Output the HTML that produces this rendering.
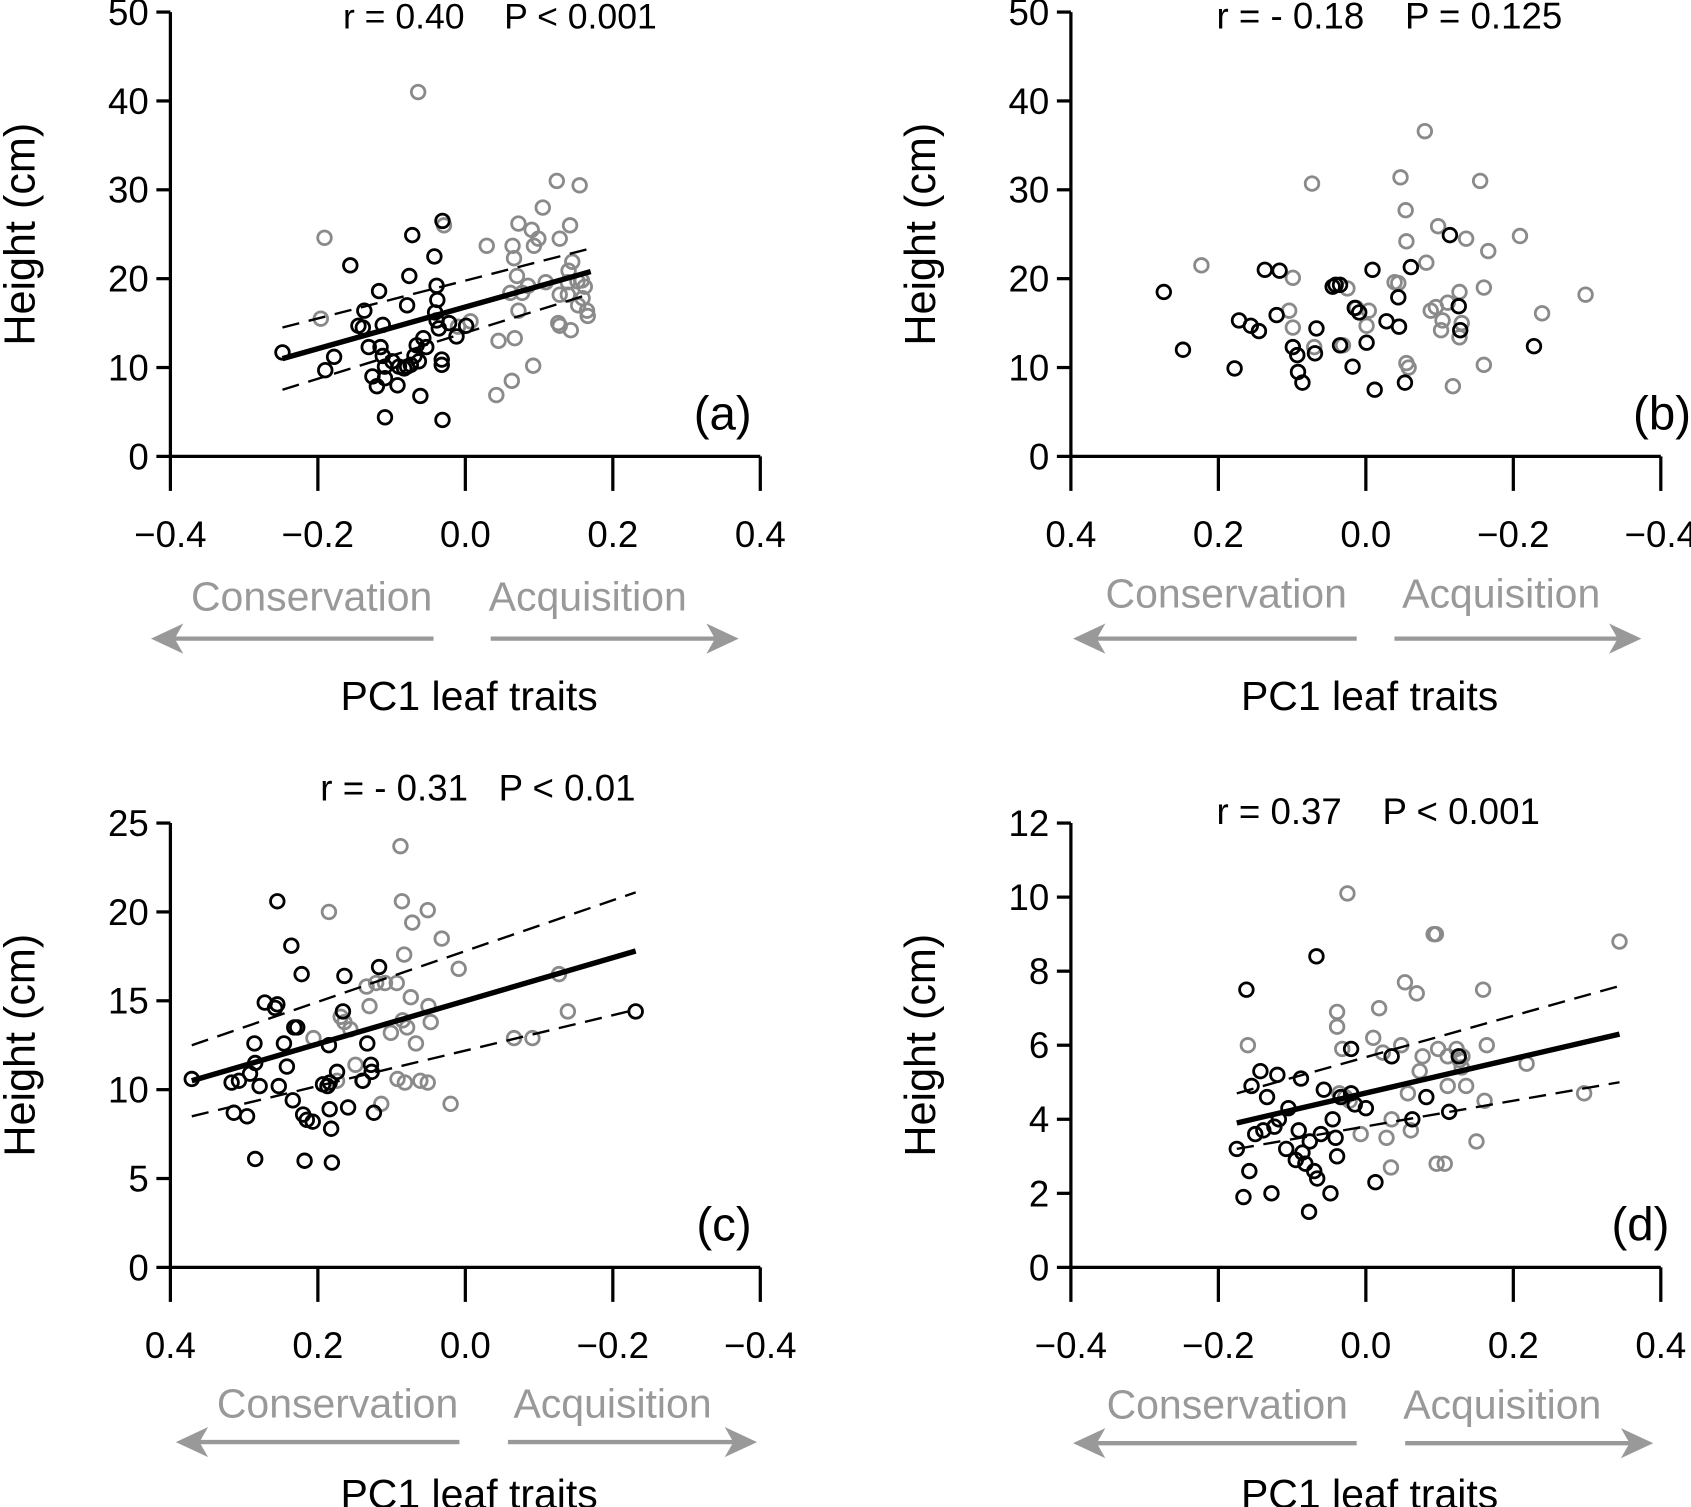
<!DOCTYPE html>
<html><head><meta charset="utf-8"><style>
html,body{margin:0;padding:0;background:#fff;}
svg{display:block;}
text{font-family:"Liberation Sans",Arial,sans-serif;}
</style></head><body>
<svg id="chart" width="1691" height="1507" viewBox="0 0 1568 1397" xmlns="http://www.w3.org/2000/svg"></svg>
<script>
// ---------- DATA ----------
const aBlackX=[-0.248,-0.19,-0.178,-0.156,-0.137,-0.145,-0.139,-0.131,-0.115,-0.126,-0.12,-0.109,-0.117,-0.112,-0.112,-0.109,-0.099,-0.092,-0.09,-0.083,-0.079,-0.074,-0.109,-0.072,-0.076,-0.079,-0.069,-0.066,-0.063,-0.061,-0.057,-0.053,-0.042,-0.039,-0.038,-0.041,-0.036,-0.039,-0.032,-0.032,-0.031,-0.031,-0.022,-0.012,0.001];
const aBlackY=[11.7,9.7,11.2,21.5,16.4,14.7,14.5,12.3,12.3,9.0,7.9,8.8,18.6,14.8,11.3,10.1,10.7,8.0,10.1,9.9,10.1,10.3,4.4,24.9,20.3,17.0,11.3,12.5,10.7,6.8,13.3,12.3,22.5,19.2,17.6,16.2,14.4,15.3,10.9,10.3,4.1,26.5,15.0,13.5,14.7];
const aGrayX=[-0.191,-0.196,-0.064,-0.029,-0.01,0.007,0.029,0.045,0.042,0.063,0.064,0.066,0.072,0.07,0.077,0.061,0.072,0.067,0.085,0.09,0.093,0.099,0.105,0.092,0.109,0.124,0.128,0.126,0.128,0.139,0.139,0.14,0.145,0.143,0.152,0.153,0.155,0.158,0.159,0.162,0.165,0.166,0.128,0.142];
const aGrayY=[24.6,15.5,41.0,26.0,14.6,15.2,23.7,13.0,6.9,8.5,23.7,22.3,26.2,20.3,18.4,18.4,16.4,13.3,19.2,25.5,23.7,24.5,28.0,10.2,19.6,31.0,24.5,15.0,14.7,19.6,18.2,20.9,21.9,14.2,19.7,17.0,30.5,19.8,17.8,19.1,16.4,15.8,18.2,26.0];
const aFitX=[-0.248,0.17], aFitY=[11.0,20.8], aUpY=[14.5,23.4], aLoY=[7.5,18.3];

const bBlackX=[0.274,0.248,0.178,0.172,0.156,0.145,0.137,0.117,0.121,0.099,0.093,0.092,0.086,0.069,0.067,0.045,0.041,0.035,0.035,0.018,0.015,0.009,-0.001,-0.009,-0.012,-0.028,-0.044,-0.045,-0.061,-0.053,-0.114,-0.126,-0.128,-0.228];
const bBlackY=[18.5,12.0,9.9,15.3,14.7,14.1,21.0,20.9,15.9,12.3,11.4,9.5,8.3,11.6,14.4,19.1,19.3,19.3,12.5,10.1,16.7,16.2,12.8,21.0,7.5,15.2,17.9,14.6,21.3,8.3,24.9,16.9,14.2,12.4];
const bGrayX=[0.223,0.073,0.099,0.104,0.099,0.07,0.031,0.025,0.013,-0.001,-0.004,-0.039,-0.047,-0.054,-0.055,-0.055,-0.058,-0.044,-0.08,-0.082,-0.088,-0.095,-0.098,-0.102,-0.111,-0.104,-0.118,-0.127,-0.127,-0.136,-0.155,-0.16,-0.16,-0.166,-0.209,-0.239,-0.298,-0.13];
const bGrayY=[21.5,30.7,20.1,16.4,14.5,12.3,12.5,18.9,16.7,14.7,16.4,19.6,31.4,27.7,24.2,10.5,10.0,19.5,36.6,21.8,16.4,16.8,25.9,14.2,17.3,15.3,7.9,13.4,18.5,24.5,31.0,10.3,19.0,23.1,24.8,16.1,18.2,15.0];

const cBlackX=[0.371,0.314,0.317,0.307,0.296,0.292,0.286,0.285,0.285,0.279,0.272,0.258,0.255,0.255,0.253,0.246,0.242,0.236,0.234,0.232,0.228,0.222,0.22,0.215,0.207,0.218,0.193,0.187,0.184,0.185,0.184,0.182,0.181,0.174,0.166,0.164,0.159,0.139,0.133,0.128,0.127,0.124,0.117,-0.231];
const cBlackY=[10.6,8.7,10.4,10.5,8.5,10.9,12.6,6.1,11.5,10.2,14.9,14.6,20.6,14.8,10.2,12.6,11.3,18.1,9.4,13.5,13.5,16.5,8.6,8.3,8.2,6.0,10.3,10.2,10.4,12.5,8.9,7.8,5.9,11.0,14.4,16.4,9.0,10.5,12.6,11.4,11.0,8.7,16.9,14.4];
const cGrayX=[0.206,0.185,0.174,0.169,0.164,0.156,0.149,0.14,0.134,0.13,0.121,0.114,0.109,0.101,0.093,0.092,0.088,0.086,0.083,0.085,0.082,0.079,0.074,0.072,0.067,0.061,0.051,0.051,0.05,0.047,0.032,0.02,0.009,-0.066,-0.091,-0.127,-0.139];
const cGrayY=[12.9,20.0,10.5,14.1,13.8,13.4,11.4,10.5,15.8,14.7,16.0,9.2,16.0,13.2,16.0,10.6,23.7,20.6,17.6,13.9,10.4,13.5,15.2,19.4,12.6,10.5,10.4,20.1,14.7,13.8,18.5,9.2,16.8,12.9,12.9,16.5,14.4];
const cFitX=[0.371,-0.231], cFitY=[10.5,17.8], cUpY=[12.5,21.1], cLoY=[8.5,14.5];

const dBlackX=[-0.175,-0.166,-0.162,-0.158,-0.155,-0.15,-0.143,-0.139,-0.134,-0.128,-0.12,-0.124,-0.118,-0.108,-0.105,-0.095,-0.091,-0.088,-0.086,-0.082,-0.077,-0.076,-0.07,-0.066,-0.067,-0.061,-0.057,-0.048,-0.045,-0.041,-0.039,-0.034,-0.02,-0.02,-0.015,0,0.013,0.035,0.063,0.082,0.113,0.126];
const dBlackY=[3.2,1.9,7.5,2.6,4.9,3.6,5.3,3.7,4.6,2.0,5.2,3.8,4.0,3.2,4.3,2.9,3.7,5.1,3.1,2.8,1.5,3.4,2.6,2.4,8.4,3.6,4.8,2.0,4.0,3.5,3.0,4.6,5.9,4.7,4.4,4.3,2.3,5.7,4.0,4.6,4.2,5.7];
const dGrayX=[-0.16,-0.039,-0.036,-0.032,-0.039,-0.025,-0.028,-0.022,-0.007,0.01,0.018,0.023,0.028,0.034,0.035,0.048,0.053,0.057,0.061,0.069,0.073,0.077,0.092,0.095,0.096,0.098,0.107,0.111,0.111,0.123,0.127,0.13,0.131,0.136,0.15,0.159,0.164,0.161,0.218,0.296,0.344];
const dGrayY=[6.0,6.9,4.7,5.9,6.5,10.1,4.6,4.5,3.6,6.2,7.0,5.8,3.5,2.7,4.0,6.0,7.7,4.7,3.7,7.4,5.3,5.7,9.0,9.0,2.8,5.9,2.8,4.9,5.7,5.9,5.6,5.4,5.7,4.9,3.4,7.5,6.0,4.5,5.5,4.7,8.8];
const dFitX=[-0.175,0.344], dFitY=[3.9,6.3], dUpY=[4.7,7.6], dLoY=[3.2,5.0];

const xTickVals=[-0.4,-0.2,0.0,0.2,0.4];
const yTicksAB=[0,10,20,30,40,50];
const yTicksC=[0,5,10,15,20,25];
const yTicksD=[0,2,4,6,8,10,12];

// ---------- DRAW ----------
const NS="http://www.w3.org/2000/svg";
const svg=document.getElementById('chart');
function mk(tag,attrs,parent,name){const e=document.createElementNS(NS,tag);for(const k in attrs)e.setAttribute(k,attrs[k]);(parent||svg).appendChild(e);


return e;}
function fmt(v){const s=Math.abs(v).toFixed(1);return v<0?'\u2212'+s:s;}

function panel(o){
  const g=mk('g',{},svg,'panel-'+o.id);
  const x0=o.ax, xR=o.ax+547, yB=o.yb, yT=o.yb-412;
  const sx=v=>o.rev? (x0+273.5)-v/0.4*273.5 : (x0+273.5)+v/0.4*273.5;
  const sy=v=>yB-v/o.ymax*412;
  mk('line',{x1:x0,y1:yT,x2:x0,y2:yB,stroke:'#000','stroke-width':3},g,'y-axis');
  mk('line',{x1:x0,y1:yB,x2:xR,y2:yB,stroke:'#000','stroke-width':3},g,'x-axis');
  o.yt.forEach(v=>{
    mk('line',{x1:x0-13,y1:sy(v),x2:x0,y2:sy(v),stroke:'#000','stroke-width':3},g,'y-tick');
    const t=mk('text',{x:x0-20,y:sy(v)+12,'text-anchor':'end','font-size':34},g,'y-tick-label');t.textContent=v;
  });
  xTickVals.forEach(v=>{
    mk('line',{x1:sx(v),y1:yB,x2:sx(v),y2:yB+32,stroke:'#000','stroke-width':3},g,'x-tick');
    const t=mk('text',{x:sx(v),y:yB+84,'text-anchor':'middle','font-size':34},g,'x-tick-label');t.textContent=fmt(v);
  });
  const yt=mk('text',{x:0,y:0,transform:`translate(${x0-126},${yB-206}) rotate(-90)`,'text-anchor':'middle','font-size':40},g,'y-axis-title');yt.textContent='Height (cm)';
  const st=mk('text',{x:o.statX,y:o.statY,'font-size':o.statFs},g,'stats-annotation');st.textContent=o.stat;st.style.whiteSpace='pre';
  const pl=mk('text',{x:o.lblX,y:yB-25,'text-anchor':'end','font-size':44},g,'panel-label');pl.textContent=o.lbl;
  const c=mk('text',{x:o.consX,y:o.dirY,'text-anchor':'middle','font-size':38,fill:'#999'},g,'conservation-label');c.textContent='Conservation';
  const a=mk('text',{x:o.acqX,y:o.dirY,'text-anchor':'middle','font-size':38,fill:'#999'},g,'acquisition-label');a.textContent='Acquisition';
  const ay=o.arrY;
  mk('line',{x1:o.la[0],y1:ay,x2:o.la[1]+20,y2:ay,stroke:'#999','stroke-width':4},g,'conservation-arrow');
  mk('polygon',{points:`${o.la[1]},${ay} ${o.la[1]+30},${ay-14} ${o.la[1]+22},${ay} ${o.la[1]+30},${ay+14}`,fill:'#999'},g,'conservation-arrowhead');
  mk('line',{x1:o.ra[0],y1:ay,x2:o.ra[1]-20,y2:ay,stroke:'#999','stroke-width':4},g,'acquisition-arrow');
  mk('polygon',{points:`${o.ra[1]},${ay} ${o.ra[1]-30},${ay-14} ${o.ra[1]-22},${ay} ${o.ra[1]-30},${ay+14}`,fill:'#999'},g,'acquisition-arrowhead');
  const xt=mk('text',{x:o.ax+277,y:o.pcY,'text-anchor':'middle','font-size':38},g,'x-axis-title');xt.textContent='PC1 leaf traits';
  o.gx.forEach((v,i)=>{mk('circle',{cx:sx(v),cy:sy(o.gy[i]),r:6.3,fill:'none',stroke:'#8a8a8a','stroke-width':2.6},g,'acquisition-point');});
  o.bx.forEach((v,i)=>{mk('circle',{cx:sx(v),cy:sy(o.by[i]),r:6.3,fill:'none',stroke:'#000','stroke-width':2.6},g,'conservation-point');});
  if(o.fx){
    mk('line',{x1:sx(o.fx[0]),y1:sy(o.up[0]),x2:sx(o.fx[1]),y2:sy(o.up[1]),stroke:'#000','stroke-width':2.2,'stroke-dasharray':'16 9'},g,'ci-upper');
    mk('line',{x1:sx(o.fx[0]),y1:sy(o.lo[0]),x2:sx(o.fx[1]),y2:sy(o.lo[1]),stroke:'#000','stroke-width':2.2,'stroke-dasharray':'16 9'},g,'ci-lower');
    mk('line',{x1:sx(o.fx[0]),y1:sy(o.fy[0]),x2:sx(o.fx[1]),y2:sy(o.fy[1]),stroke:'#000','stroke-width':5},g,'regression-line');
  }
}
panel({id:'a',ax:158,yb:423,ymax:50,yt:yTicksAB,rev:false,bx:aBlackX,by:aBlackY,gx:aGrayX,gy:aGrayY,fx:aFitX,fy:aFitY,up:aUpY,lo:aLoY,
  stat:'r = 0.40    P < 0.001',statFs:33,statX:318,statY:26,lbl:'(a)',lblX:697,consX:289,acqX:545,dirY:566,arrY:592,la:[402,140],ra:[455,685],pcY:658});
panel({id:'b',ax:993,yb:423,ymax:50,yt:yTicksAB,rev:true,bx:bBlackX,by:bBlackY,gx:bGrayX,gy:bGrayY,
  stat:'r = - 0.18    P = 0.125',statFs:34,statX:1128,statY:26,lbl:'(b)',lblX:1568,consX:1137,acqX:1392,dirY:563,arrY:592,la:[1258,995],ra:[1293,1522],pcY:658});
panel({id:'c',ax:158,yb:1175,ymax:25,yt:yTicksC,rev:true,bx:cBlackX,by:cBlackY,gx:cGrayX,gy:cGrayY,fx:cFitX,fy:cFitY,up:cUpY,lo:cLoY,
  stat:'r = - 0.31   P < 0.01',statFs:34,statX:297,statY:742,lbl:'(c)',lblX:697,consX:313,acqX:568,dirY:1314,arrY:1337,la:[426,163],ra:[471,702],pcY:1398});
panel({id:'d',ax:993,yb:1175,ymax:12,yt:yTicksD,rev:false,bx:dBlackX,by:dBlackY,gx:dGrayX,gy:dGrayY,fx:dFitX,fy:dFitY,up:dUpY,lo:dLoY,
  stat:'r = 0.37    P < 0.001',statFs:34,statX:1128,statY:764,lbl:'(d)',lblX:1548,consX:1138,acqX:1393,dirY:1315,arrY:1338,la:[1258,995],ra:[1303,1533],pcY:1398});
</script>
</body></html>
